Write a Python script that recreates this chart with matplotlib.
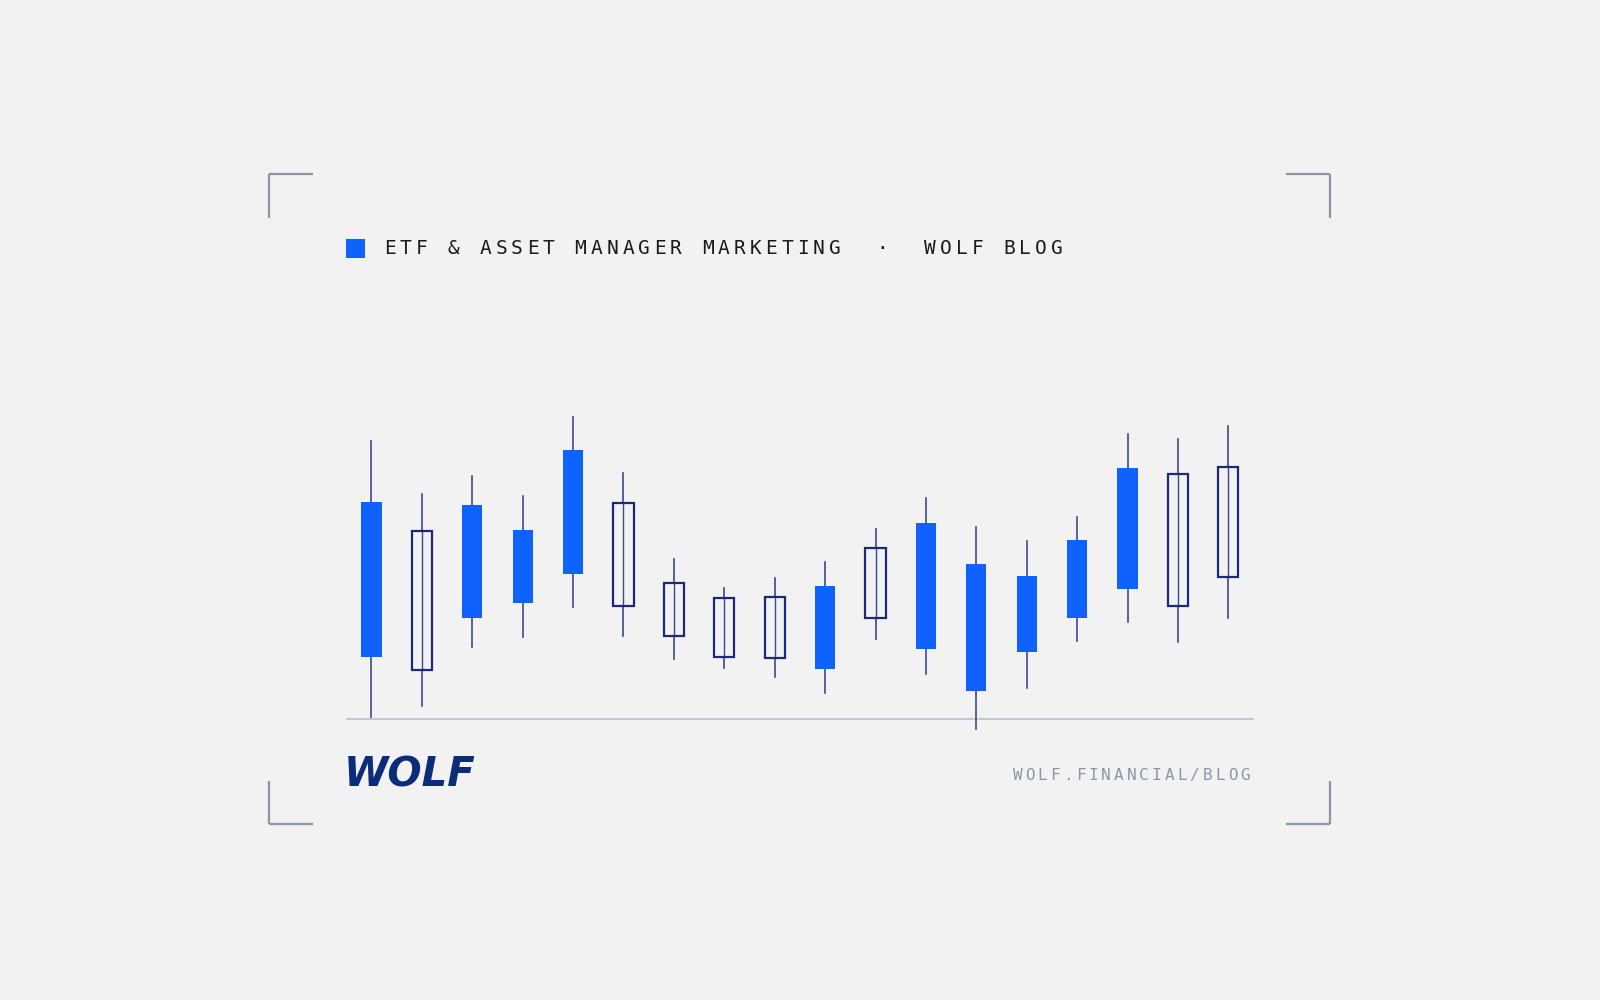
import matplotlib
matplotlib.use("Agg")
import matplotlib.pyplot as plt
from matplotlib.patches import Rectangle

# candle data (price units)
highs  = [92.0, 79.0, 83.5, 78.5, 97.75, 84.0, 63.0, 56.0, 58.5, 62.25, 70.5, 78.0, 71.0, 67.5, 73.25, 93.75, 92.5, 95.75]
opens  = [39.0, 35.75, 48.5, 52.25, 59.25, 51.5, 44.25, 39.0, 38.75, 36.0, 48.5, 41.0, 30.75, 40.25, 48.5, 55.75, 51.5, 58.75]
closes = [77.0, 70.0, 76.25, 70.25, 89.75, 76.75, 57.25, 53.5, 53.75, 56.5, 65.75, 71.75, 61.75, 59.0, 67.75, 85.25, 83.75, 85.5]
lows   = [24.25, 27.0, 41.5, 44.0, 51.25, 44.25, 38.5, 36.25, 34.25, 30.25, 43.5, 34.75, 21.5, 31.5, 43.0, 47.5, 42.75, 48.5]
filled = [True, False, True, True, True, False, False, False, False, True, False, True, True, True, True, True, False, False]
baseline = 23.75
header = "ETF & ASSET MANAGER MARKETING  ·  WOLF BLOG"
url = "WOLF.FINANCIAL/BLOG"

W, H = 1568.0, 980.0
BG = "#f2f2f2"
BLUE = "#0f62fe"
NAVY = "#1a2a78"
GRAY = "#8a96a8"

fig = plt.figure(figsize=(16, 10), dpi=100, facecolor=BG)
deco = fig.add_axes([0, 0, 1, 1])
deco.set_xlim(0, W); deco.set_ylim(H, 0); deco.axis("off")
deco.set_facecolor(BG)

# corner brackets
for (x0, y0, dx, dy) in [(264, 171, 1, 1), (1303, 171, -1, 1), (264, 808, 1, -1), (1303, 808, -1, -1)]:
    deco.plot([x0, x0 + 43 * dx], [y0, y0], color=GRAY, lw=1.6, solid_capstyle="butt")
    deco.plot([x0, x0], [y0, y0 + 43 * dy], color=GRAY, lw=1.6, solid_capstyle="butt")

# header
deco.add_patch(Rectangle((339, 234), 19, 19, color=BLUE, lw=0))
for i, ch in enumerate(header):
    deco.text(382 + i * 15.57, 244, ch, fontsize=14, family="DejaVu Sans Mono",
              ha="center", va="center", color="#1a1a1a")

# footer
deco.text(337, 760, "WOLF", fontsize=29, fontweight="heavy", style="italic",
          family="DejaVu Sans", color="#0b2c7a", va="center", ha="left")
for i, ch in enumerate(url):
    deco.text(997 + i * 12.4, 760, ch, fontsize=11.5, family="DejaVu Sans Mono",
              ha="center", va="center", color=GRAY)

# candle axes
ax = fig.add_axes([339 / W, 1 - 720 / H, (1229 - 339) / W, (720 - 400) / H])
ax.set_xlim(-0.506, 17.51); ax.set_ylim(20, 100); ax.axis("off")
ax.axhline(baseline, color="#c3c8d4", lw=1.5, zorder=0)
bw = 0.4
for i in range(len(highs)):
    lo, hi = min(opens[i], closes[i]), max(opens[i], closes[i])
    ax.plot([i, i], [lows[i], lo], color="#3a4a8a", lw=1.2, zorder=1)
    ax.plot([i, i], [hi, highs[i]], color="#3a4a8a", lw=1.2, zorder=1)
    if filled[i]:
        ax.add_patch(Rectangle((i - bw / 2, lo), bw, hi - lo, facecolor=BLUE, edgecolor="none", zorder=2))
    else:
        ax.plot([i, i], [lo, hi], color="#3a4a8a", lw=1.0, zorder=1)
        ax.add_patch(Rectangle((i - bw / 2, lo), bw, hi - lo, facecolor="none", edgecolor=NAVY, lw=1.6, zorder=2))

fig.savefig("out.png", dpi=100, facecolor=BG)
